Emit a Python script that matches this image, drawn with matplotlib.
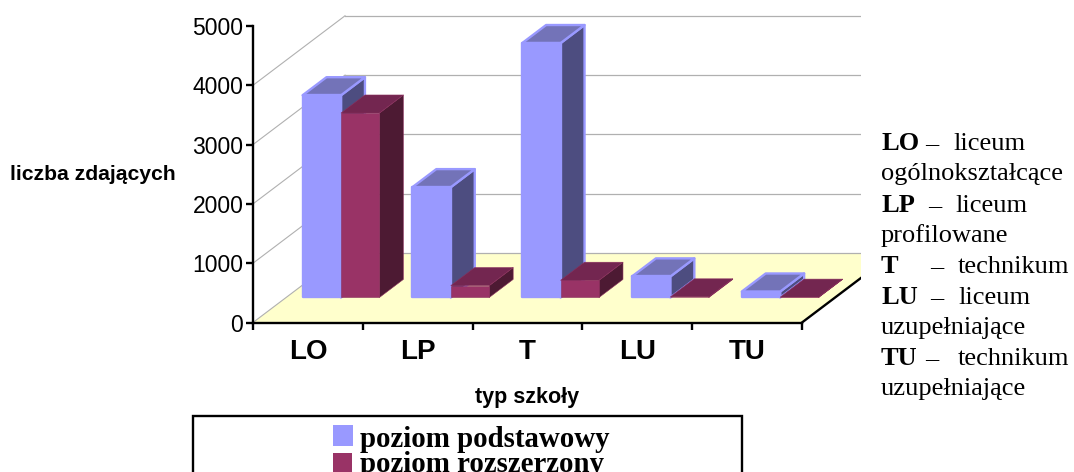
import matplotlib
matplotlib.use('Agg')
import matplotlib.pyplot as plt
from matplotlib.patches import Rectangle

# values
categories = ['LO', 'LP', 'T', 'LU', 'TU']
podstawowy = [3410, 1860, 4290, 355, 100]
rozszerzony = [3110, 200, 290, 10, 5]
y_ticks = [0, 1000, 2000, 3000, 4000, 5000]
grid_levels = [0, 1000, 2000, 3000, 4000]

W, H = 1074, 472
# depth offset of the back wall, in category units / value units
DX = 92 / 109.8
DY = 69.5 / 59.3 * 1000
CLIP_X = 861

def fx(px):
	return px / W
def fy(py):
	return 1 - py / H

def sh(x, v, d):
	return (x + d * DX, v + d * DY)

def draw_bar(ax, x0, x1, val, d0, d1, front, top, side, edge, lw):
	# side, top, front, so that the front face ends up on top
	ax.fill(*zip(sh(x1, 0, d0), sh(x1, 0, d1), sh(x1, val, d1), sh(x1, val, d0)),
		facecolor=side, edgecolor=edge, lw=lw, clip_on=False, zorder=3, joinstyle='round')
	ax.fill(*zip(sh(x0, val, d0), sh(x1, val, d0), sh(x1, val, d1), sh(x0, val, d1)),
		facecolor=top, edgecolor=edge, lw=lw, clip_on=False, zorder=3, joinstyle='round')
	ax.fill(*zip(sh(x0, 0, d0), sh(x1, 0, d0), sh(x1, val, d0), sh(x0, val, d0)),
		facecolor=front, edgecolor=edge, lw=lw, clip_on=False, zorder=3, joinstyle='round')

plt.rcParams['font.family'] = ['Liberation Sans', 'DejaVu Sans']
fig = plt.figure(figsize=(W / 100, H / 100), dpi=100, facecolor='white')
ax = fig.add_axes([fx(253), fy(322.5), (802 - 253) / W, (322.5 - 26) / H])
ax.set_xlim(0, len(categories))
ax.set_ylim(0, 5000)
ax.patch.set_visible(False)
for s in ['top', 'right']:
	ax.spines[s].set_visible(False)
for s in ['left', 'bottom']:
	ax.spines[s].set_linewidth(1.7)
	ax.spines[s].set_zorder(5)

n = len(categories)
# floor
ax.fill(*zip(sh(0, 0, 0), sh(n, 0, 0), sh(n, 0, 1), sh(0, 0, 1)),
	facecolor='#FFFFCC', edgecolor='none', clip_on=False, zorder=1)
ax.plot(*zip(sh(n, 0, 0), sh(n, 0, 1)), color='black', lw=1.7, clip_on=False, zorder=5)
# walls
for g in grid_levels:
	ax.plot(*zip(sh(0, g, 0), sh(0, g, 1)), color='#B0B0B0', lw=0.8, clip_on=False, zorder=2)
	ax.plot(*zip(sh(0, g, 1), sh(n, g, 1)), color='#B0B0B0', lw=0.9, clip_on=False, zorder=2)

gap, width, d0, d1 = 0.15, 0.35, 0.36, 0.62
for i in range(n):
	draw_bar(ax, i + gap, i + gap + width, podstawowy[i], d0, d1,
		'#9999FF', '#7373B8', '#4D4D80', '#9999FF', 1.7)
	draw_bar(ax, i + gap + width, i + gap + 2 * width, rozszerzony[i], d0, d1,
		'#993366', '#732650', '#4D1A33', '#8A2E5C', 0.4)

ax.set_yticks(y_ticks)
ax.set_xticks(range(n + 1))
ax.set_xticklabels([])
ax.set_xticks([i + 0.5 for i in range(n)], categories, minor=True)
ax.tick_params(axis='x', which='minor', length=0, labelsize=20, pad=12)
for t in ax.get_xticklabels(minor=True):
	t.set_fontweight('bold')
ax.tick_params(axis='both', which='major', length=5, width=1.7, direction='out')
ax.tick_params(axis='y', labelsize=16.5, pad=2)

# everything right of the plot is covered by the text box
fig.add_artist(Rectangle((fx(CLIP_X), 0), 1 - fx(CLIP_X), 1, transform=fig.transFigure,
	facecolor='white', edgecolor='none', zorder=5))

fig.text(fx(93), fy(175), 'liczba zdających', ha='center', va='center', fontsize=15.2, fontweight='bold', zorder=6)
fig.text(fx(527), fy(397), 'typ szkoły', ha='center', va='center', fontsize=15.5, fontweight='bold', zorder=6)

# legend box, cut by the bottom of the picture
fig.add_artist(Rectangle((fx(193), fy(480)), (742 - 193) / W, (480 - 416) / H, transform=fig.transFigure,
	facecolor='white', edgecolor='black', lw=1.7, zorder=6))
fig.add_artist(Rectangle((fx(333), fy(446)), 20 / W, 21 / H, transform=fig.transFigure,
	facecolor='#9999FF', edgecolor='none', zorder=7))
fig.add_artist(Rectangle((fx(333), fy(473)), 19 / W, 20 / H, transform=fig.transFigure,
	facecolor='#993366', edgecolor='none', zorder=7))
serif = ['Liberation Serif', 'DejaVu Serif']
fig.text(fx(360), fy(447), 'poziom podstawowy', family=serif, fontweight='bold', fontsize=20.8, zorder=8)
fig.text(fx(360), fy(472), 'poziom rozszerzony', family=serif, fontweight='bold', fontsize=20.8, zorder=8)

# explanation on the right, pieces placed word by word like the justified original
notes = [
	(881, 150, 'LO', True), (925, 150, '–', False), (953, 150, 'liceum', False),
	(881, 180, 'ogólnokształcące', False),
	(881, 212, 'LP', True), (928, 212, '–', False), (955, 212, 'liceum', False),
	(881, 242, 'profilowane', False),
	(881, 273, 'T', True), (930, 273, '–', False), (958, 273, 'technikum', False),
	(881, 304, 'LU', True), (930, 304, '–', False), (958, 304, 'liceum', False),
	(881, 334, 'uzupełniające', False),
	(881, 365, 'TU', True), (925, 365, '–', False), (958, 365, 'technikum', False),
	(881, 395, 'uzupełniające', False),
]
for px, py, s, b in notes:
	fig.text(fx(px), fy(py), s, family=serif, fontsize=19, fontweight='bold' if b else 'normal', zorder=8)

fig.savefig('out.png', dpi=100)
